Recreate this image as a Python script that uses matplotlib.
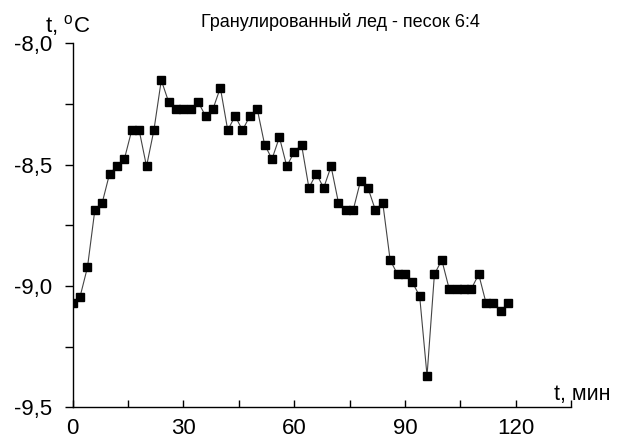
import matplotlib
matplotlib.use('Agg')
import matplotlib.pyplot as plt
from matplotlib.ticker import MultipleLocator, FuncFormatter

plt.rcParams['font.family'] = ['Liberation Sans', 'DejaVu Sans']
plt.rcParams['mathtext.fontset'] = 'custom'
plt.rcParams['mathtext.rm'] = 'Liberation Sans'
plt.rcParams['axes.unicode_minus'] = False

# time, min (reading every 2 min)
time_min = list(range(0, 120, 2))
# temperature, deg C
temp_c = [-9.071, -9.044, -8.923, -8.687, -8.657, -8.537, -8.507, -8.477, -8.358, -8.358,
          -8.507, -8.358, -8.152, -8.242, -8.271, -8.271, -8.271, -8.242, -8.300, -8.271,
          -8.183, -8.358, -8.300, -8.358, -8.300, -8.271, -8.418, -8.477, -8.387, -8.507,
          -8.448, -8.418, -8.596, -8.537, -8.596, -8.507, -8.657, -8.687, -8.687, -8.566,
          -8.596, -8.687, -8.657, -8.893, -8.952, -8.952, -8.984, -9.042, -9.370, -8.952,
          -8.893, -9.012, -9.012, -9.012, -9.012, -8.952, -9.071, -9.071, -9.103, -9.071]

title = 'Гранулированный лед - песок 6:4'
x_label = 't, мин'
y_label = r't, $^{\mathrm{o}}$C'

fig = plt.figure(figsize=(6.23, 4.44), dpi=100)
ax = fig.add_axes([0.1167, 0.0827, 0.7998, 0.8198])

ax.plot(time_min, temp_c, color='#444444', lw=0.8, marker='s', ms=5.5,
        mfc='black', mec='black')

ax.set_xlim(0, 135)
ax.set_ylim(-9.5, -8.0)
ax.spines['top'].set_visible(False)
ax.spines['right'].set_visible(False)
for s in ('left', 'bottom'):
    ax.spines[s].set_linewidth(1.0)

ax.xaxis.set_major_locator(MultipleLocator(30))
ax.xaxis.set_minor_locator(MultipleLocator(15))
ax.yaxis.set_major_locator(MultipleLocator(0.5))
ax.yaxis.set_minor_locator(MultipleLocator(0.25))
ax.xaxis.set_major_formatter(FuncFormatter(lambda v, p: f"{v:.0f}"))
ax.yaxis.set_major_formatter(FuncFormatter(lambda v, p: f"{v:.1f}".replace('.', ',')))

ax.tick_params(axis='x', which='both', direction='in', length=5, width=1,
               pad=8, labelsize=16)
ax.tick_params(axis='y', which='both', direction='out', length=6, width=1,
               pad=9, labelsize=16)

fig.text(0.072, 0.926, y_label, fontsize=16, va='baseline')
fig.text(0.546, 0.939, title, fontsize=13, ha='center', va='baseline')
fig.text(0.889, 0.099, x_label, fontsize=15.5, va='baseline')

plt.savefig('out.png', dpi=100)
